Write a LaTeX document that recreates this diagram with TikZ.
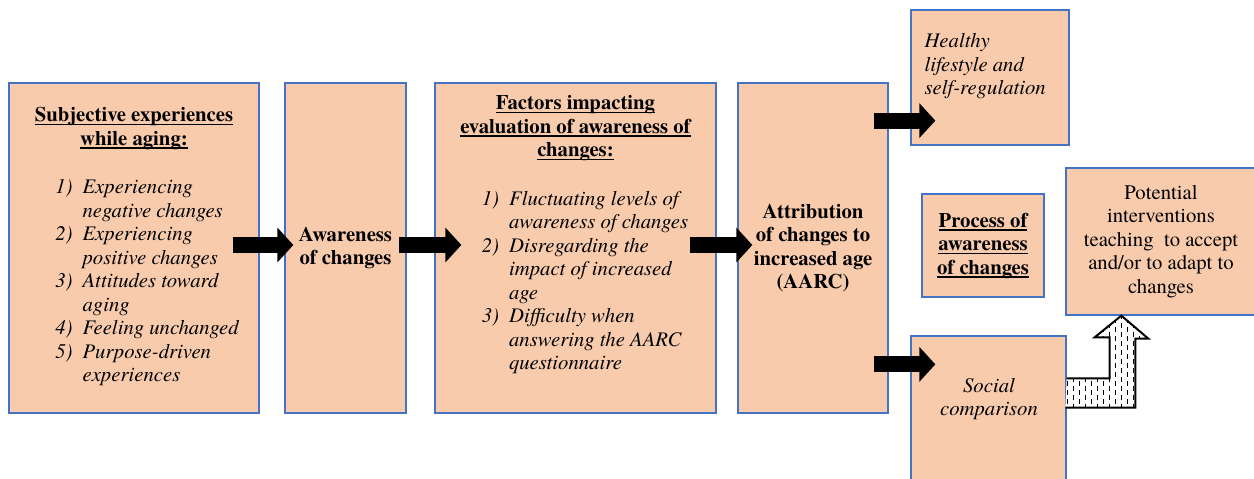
\documentclass[tikz,border=0pt]{standalone}
\usepackage{fontspec}
\setmainfont{texgyretermes}[Extension=.otf, UprightFont=*-regular, BoldFont=*-bold,
  ItalicFont=*-italic, BoldItalicFont=*-bolditalic]
\usetikzlibrary{arrows.meta}
\definecolor{boxfill}{RGB}{248,203,173}
\definecolor{boxline}{RGB}{68,114,196}
\newcommand{\hdul}[1]{\leavevmode\setbox0\hbox{#1}\rlap{\copy0}\rule[-3.8pt]{\wd0}{1.7pt}}

\begin{document}
\begin{tikzpicture}[x=1pt, y=-1pt,
  font=\fontsize{20.7}{23.5}\selectfont,
  box/.style={draw=boxline, fill=boxfill, line width=1.3pt, align=center, inner sep=0pt},
  itnode/.style={align=center, font=\fontsize{20.7}{23.5}\selectfont\itshape},
  bfnode/.style={font=\fontsize{20.7}{23.5}\selectfont\bfseries},
  fat/.style={line width=16pt, -{Triangle[length=16pt,width=34pt]}},
  bent/.style={line width=2pt, line join=miter, fill=white, path picture={
    \foreach \x in {1067,1079,...,1150}
      \draw[line width=0.8pt, dash pattern=on 5pt off 4pt] (\x,300) -- (\x,420);
    \foreach \x in {1073,1085,...,1150}
      \draw[line width=0.8pt, dash pattern=on 5pt off 4pt, dash phase=4.5pt] (\x,300) -- (\x,420);}}]
  \useasboundingbox (0,0) rectangle (1254,479);

  \node[box, minimum width=250pt, minimum height=330pt] (sub) at (134,248) {%
    \textbf{\hdul{Subjective experiences}}\\
    \textbf{\hdul{while aging:}}\\[25pt]
    \hspace*{26pt}{\itshape\begin{tabular}[t]{@{}r@{\hspace{10pt}}l@{}}
      1) & Experiencing\\ & negative changes\\
      2) & Experiencing\\ & positive changes\\
      3) & Attitudes toward\\ & aging\\
      4) & Feeling unchanged\\
      5) & Purpose-driven\\ & experiences
    \end{tabular}}};
  \node[box, bfnode, minimum width=121pt, minimum height=330pt] (awa) at (345.5,248) {Awareness\\of changes};
  \node[box, minimum width=281pt, minimum height=330pt] (fac) at (575.5,248) {};
  \node[align=center] (factxt) at ([yshift=12pt]fac) {%
    \textbf{\hdul{Factors impacting}}\\
    \textbf{\hdul{evaluation of awareness of}}\\
    \textbf{\hdul{changes:}}\\[25pt]
    \hspace*{19pt}{\itshape\begin{tabular}[t]{@{}r@{\hspace{10pt}}l@{}}
      1) & Fluctuating levels of\\ & awareness of changes\\
      2) & Disregarding the\\ & impact of increased\\ & age\\
      3) & Difficulty when\\ & answering the AARC\\ & questionnaire
    \end{tabular}}};
  \node[box, bfnode, minimum width=150pt, minimum height=330pt] (att) at (813,248) {Attribution\\of changes to\\increased age\\(AARC)};

  \node[box, minimum width=158pt, minimum height=135pt] (hea) at (990,77.5) {};
  \node[itnode, align=left, anchor=north west] (heatxt) at (921,30) {Healthy\\lifestyle and\\self-regulation};
  \node[box, minimum width=122pt, minimum height=103pt] (pro) at (983,245.5) {%
    \textbf{\hdul{Process of}}\\\textbf{\hdul{awareness}}\\\textbf{\hdul{of changes}}};
  \node[box, minimum width=190pt, minimum height=147pt] (pot) at (1161,241.5) {%
    Potential\\interventions\\teaching\ \ to accept\\and/or to adapt to\\changes};
  \node[box, minimum width=155pt, minimum height=154pt] (soc) at (988.5,413) {};
  \node[itnode] (soctxt) at (989,399) {Social\\comparison};

  \draw[fat] ([xshift=-27pt,yshift=3pt]sub.east) -- ([xshift=9pt,yshift=3pt]awa.west);
  \draw[fat] ([xshift=-8pt,yshift=3pt]awa.east) -- ([xshift=27pt,yshift=3pt]fac.west);
  \draw[fat] ([xshift=-27pt,yshift=3pt]fac.east) -- ([xshift=15pt,yshift=3pt]att.west);
  \draw[fat] ([xshift=-15pt,yshift=25pt]att.east |- hea.south) -- ([xshift=25pt,yshift=25pt]hea.south west);
  \draw[fat] ([xshift=-15pt,yshift=-29pt]att.east |- soc.north) -- ([xshift=25pt,yshift=-29pt]soc.north west);

  \draw[bent] ([yshift=-43pt]soc.north east) -- ++(43,0) -- ++(0,-41) -- ++(-15,0)
    -- ([xshift=56pt]pot.south west) -- ++(27,23) -- ++(-13,0) -- ++(0,69) -- ++(-70,0);
\end{tikzpicture}
\end{document}
